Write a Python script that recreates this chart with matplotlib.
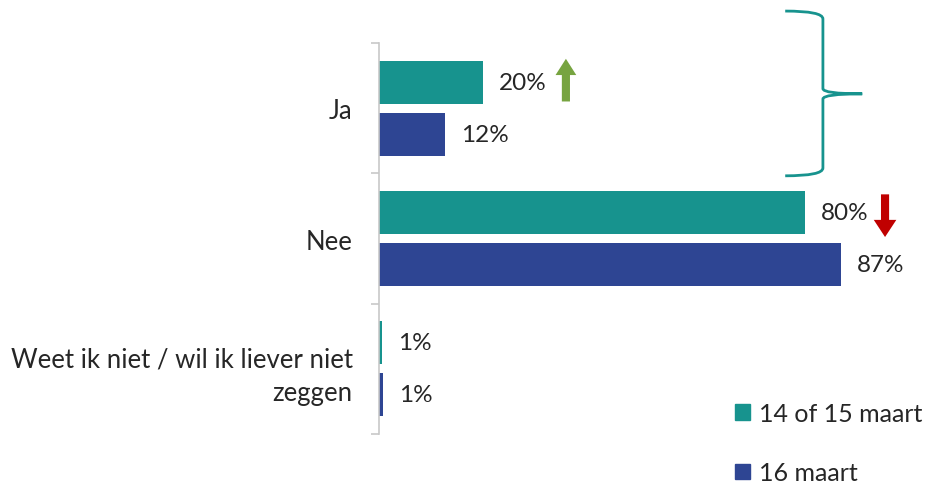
import matplotlib
matplotlib.use("Agg")
import matplotlib.pyplot as plt
from matplotlib.path import Path
from matplotlib.patches import PathPatch, Patch
import numpy as np

plt.rcParams['font.family'] = ['Lato', 'DejaVu Sans']

categories = ['Ja', 'Nee', 'Weet ik niet / wil ik liever niet\nzeggen']
series_names = ['14 of 15 maart', '16 maart']
values_1415 = [19.6, 80.2, 0.5]
values_16 = [12.4, 87.0, 0.8]
labels_1415 = ['20%', '80%', '1%']
labels_16 = ['12%', '87%', '1%']

teal = '#17938E'
navy = '#2E4593'
grey_text = '#262626'
fs = 17.5

fig = plt.figure(figsize=(9.3, 4.85), dpi=100)
# axes placed in pixel terms: left 379, right 905, top 44, bottom 435
ax = fig.add_axes([379 / 930, 1 - 435 / 485, (905 - 379) / 930, (435 - 44) / 485])

y = np.arange(len(categories))
h = 0.33
off = 0.2
b1 = ax.barh(y - off, values_1415, height=h, color=teal)
b2 = ax.barh(y + off, values_16, height=h, color=navy)

ax.set_xlim(0, (905 - 379) / 5.31)
ax.set_ylim(len(categories) - 0.5, -0.5)

for bars, labs in [(b1, labels_1415), (b2, labels_16)]:
    for rect, lab in zip(bars, labs):
        ax.text(rect.get_width() + 3.0, rect.get_y() + rect.get_height() / 2, lab,
                ha='left', va='center', fontsize=fs, color=grey_text)

# spines / ticks
for s in ['top', 'right', 'bottom']:
    ax.spines[s].set_visible(False)
ax.spines['left'].set_color('#C8C8C8')
ax.spines['left'].set_linewidth(1.2)
ax.set_xticks([])
ax.set_yticks(np.arange(-0.5, len(categories) + 0.5, 1))
ax.set_yticklabels([])
ax.tick_params(axis='y', which='major', length=6, width=1.2, color='#C8C8C8', direction='out')
ax.set_yticks(y, minor=True)
ax.set_yticklabels(categories, minor=True, fontsize=18.5, color=grey_text, ha='right',
                   multialignment='right', linespacing=1.45)
ax.tick_params(axis='y', which='minor', length=0, pad=19)

# arrows
ax.annotate('', xy=(35.2, -0.40), xytext=(35.2, -0.03),
            arrowprops=dict(arrowstyle='simple,head_width=1.15,head_length=0.9,tail_width=0.45',
                            color='#77A440', lw=0, mutation_scale=13),
            annotation_clip=False)
ax.annotate('', xy=(95.3, 1.01), xytext=(95.3, 0.64),
            arrowprops=dict(arrowstyle='simple,head_width=1.25,head_length=0.95,tail_width=0.45',
                            color='#C00000', lw=0, mutation_scale=13),
            annotation_clip=False)

# curly brace next to "Ja"
xa, xb, xc = 76.5, 83.6, 91.0
ya, ym, yb = -0.745, -0.11, 0.519
verts = [(xa, ya), (xb, ya), (xb, ya + 0.06),
         (xb, ym - 0.04),
         (xb, ym), (xc, ym),
         (xb, ym), (xb, ym + 0.04),
         (xb, yb - 0.06),
         (xb, yb), (xa, yb)]
codes = [Path.MOVETO, Path.CURVE3, Path.CURVE3,
         Path.LINETO,
         Path.CURVE3, Path.CURVE3,
         Path.CURVE3, Path.CURVE3,
         Path.LINETO,
         Path.CURVE3, Path.CURVE3]
ax.add_patch(PathPatch(Path(verts, codes), facecolor='none', edgecolor=teal,
                       lw=2, clip_on=False))

handles = [Patch(color=teal), Patch(color=navy)]
fig.legend(handles, series_names, loc='upper left', bbox_to_anchor=(735 / 930, 1 - 403 / 485),
           frameon=False, fontsize=18, handlelength=0.6, handleheight=0.6,
           handletextpad=0.37, labelspacing=1.45, borderpad=0, borderaxespad=0,
           labelcolor=grey_text)

fig.savefig('out.png', dpi=100)
